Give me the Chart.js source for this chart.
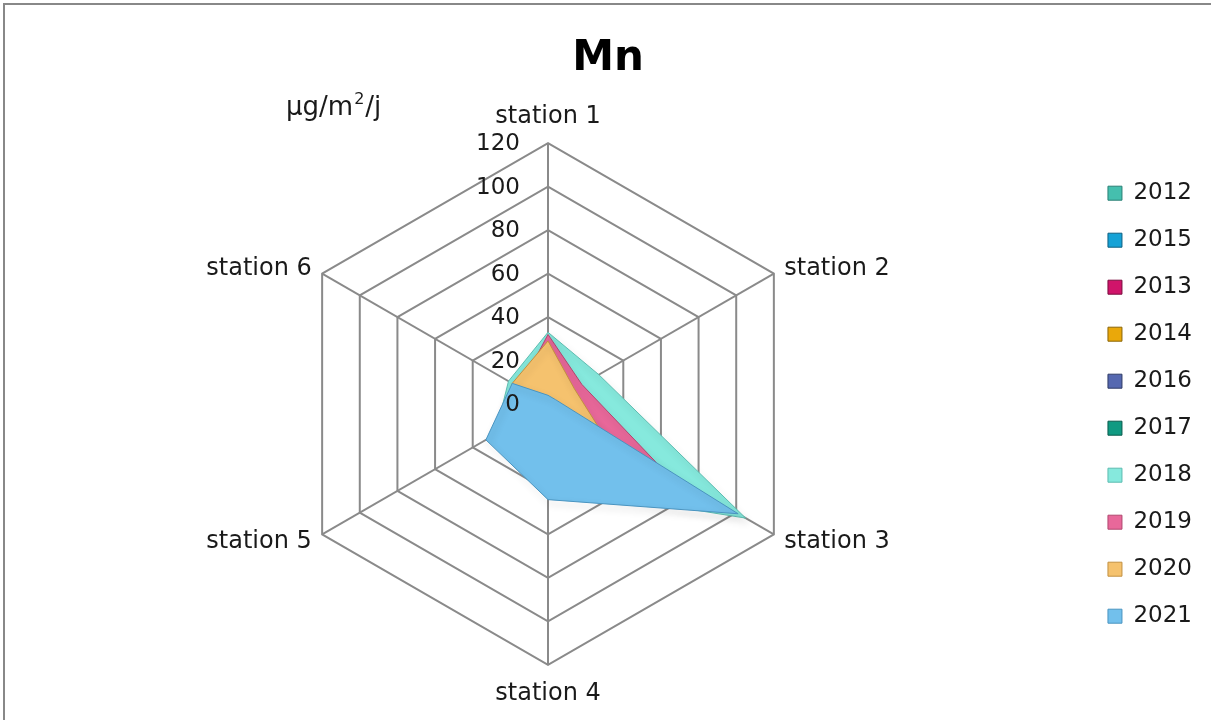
<!DOCTYPE html>
<html>
<head>
<meta charset="utf-8">
<script src="https://cdn.jsdelivr.net/npm/chart.js@4.4.1/dist/chart.umd.min.js"></script>
<style>
  body { margin: 0; background: #fff; }
  #wrap { width: 1211px; height: 720px; position: relative; }
</style>
</head>
<body>
<div id="wrap"><canvas id="chart-mn"></canvas></div>
<script>
const stations = ['station 1', 'station 2', 'station 3', 'station 4', 'station 5', 'station 6'];
const years = ['2012', '2015', '2013', '2014', '2016', '2017', '2018', '2019', '2020', '2021'];

// values in µg/m²/j (2012-2017 have nothing drawn)
const mn2012 = [];
const mn2015 = [];
const mn2013 = [];
const mn2014 = [];
const mn2016 = [];
const mn2017 = [];
const mn2018 = [33, 27, 105, 38, 28, 21];
const mn2019 = [32, 18, 62, 35, 25, 15];
const mn2020 = [29, 14, 30, 25, 20, 19];
const mn2021 = [4, 4, 101, 44, 33, 19];

const tickValues = [0, 20, 40, 60, 80, 100, 120];

const seriesData = [mn2012, mn2015, mn2013, mn2014, mn2016, mn2017, mn2018, mn2019, mn2020, mn2021];
const fills = ['#45bfae', '#16a2d6', '#d0146a', '#eaa80a', '#5568b0', '#109a82', '#86e9dd', '#e8689a', '#f5c26e', '#72c0ec'];
const edges = ['#2a7f74', '#0d5f80', '#7a0c3e', '#8a6406', '#2f3b66', '#095a4c', '#5cbcb0', '#b0476e', '#c29040', '#4a94c0'];

const FONT = "'DejaVu Sans', sans-serif";

// page frame (top + left edge only)
const framePlugin = {
    id: 'frame',
    beforeDraw(chart) {
        const ctx = chart.ctx;
        ctx.save();
        ctx.fillStyle = '#888';
        ctx.fillRect(3, 3, chart.width - 3, 2);
        ctx.fillRect(3, 3, 2, chart.height - 3);
        ctx.restore();
    }
};

// soft drop shadow under the filled areas
const shadowPlugin = {
    id: 'shadow',
    beforeDatasetDraw(chart) {
        const ctx = chart.ctx;
        ctx.save();
        ctx.shadowColor = 'rgba(0,0,0,0.3)';
        ctx.shadowBlur = 7;
        ctx.shadowOffsetX = 2;
        ctx.shadowOffsetY = 4;
    },
    afterDatasetDraw(chart) {
        chart.ctx.restore();
    }
};

// tick numbers left of the station 1 axis, station names, unit
const labelsPlugin = {
    id: 'labels',
    afterDraw(chart) {
        const ctx = chart.ctx;
        const scale = chart.scales.r;
        ctx.save();
        ctx.fillStyle = '#1a1a1a';

        ctx.font = '23px ' + FONT;
        ctx.textAlign = 'right';
        ctx.textBaseline = 'middle';
        tickValues.forEach(v => {
            const p = scale.getPointPositionForValue(0, v);
            ctx.fillText(String(v), p.x - 28, p.y + 1);
        });

        ctx.font = '24px ' + FONT;
        stations.forEach((name, i) => {
            const p = scale.getPointPosition(i, scale.drawingArea + 12);
            const dx = p.x - scale.xCenter;
            let y = p.y;
            if (Math.abs(dx) < 1) {
                ctx.textAlign = 'center';
                y += (p.y < scale.yCenter) ? -14 : 17;
            } else {
                ctx.textAlign = dx > 0 ? 'left' : 'right';
                y += 1;
            }
            ctx.fillText(name, p.x, y);
        });

        // unit, with a raised small "2"
        ctx.textAlign = 'left';
        ctx.font = '26px ' + FONT;
        let x = 286;
        ctx.fillText('µg/m', x, 108);
        x += ctx.measureText('µg/m').width + 1;
        ctx.font = '16px ' + FONT;
        ctx.fillText('2', x, 100);
        x += ctx.measureText('2').width + 1;
        ctx.font = '26px ' + FONT;
        ctx.fillText('/j', x, 108);
        ctx.restore();
    }
};

new Chart(document.getElementById('chart-mn'), {
    type: 'radar',
    data: {
        labels: stations,
        datasets: years.map((year, i) => ({
            label: year,
            data: seriesData[i],
            backgroundColor: fills[i],
            borderColor: edges[i],
            borderWidth: 1,
            fill: true,
            pointRadius: 0,
            order: years.length - i // last year drawn on top
        }))
    },
    options: {
        responsive: true,
        maintainAspectRatio: false,
        animation: false,
        layout: {
            padding: { left: 14, bottom: 13, right: 9, top: 0 }
        },
        plugins: {
            title: {
                display: true,
                text: 'Mn',
                color: '#000',
                font: { family: FONT, size: 42, weight: 'bold' },
                padding: { top: 34, bottom: 18 }
            },
            legend: {
                position: 'right',
                fullSize: false,
                labels: {
                    color: '#1a1a1a',
                    font: { family: FONT, size: 23 },
                    boxWidth: 14,
                    boxHeight: 14,
                    padding: 24,
                    sort: (a, b) => a.datasetIndex - b.datasetIndex
                }
            },
            tooltip: { enabled: false }
        },
        scales: {
            r: {
                min: 0,
                max: 120,
                beginAtZero: true,
                ticks: { stepSize: 20, display: false },
                grid: { color: '#8a8a8a', lineWidth: 2 },
                angleLines: { color: '#8a8a8a', lineWidth: 2 },
                pointLabels: {
                    color: 'rgba(0,0,0,0)',
                    font: { family: FONT, size: 24 },
                    padding: 12
                }
            }
        }
    },
    plugins: [framePlugin, shadowPlugin, labelsPlugin]
});
</script>
</body>
</html>
